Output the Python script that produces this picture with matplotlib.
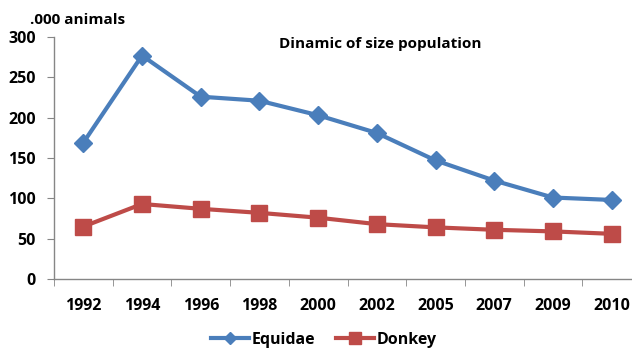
import matplotlib
matplotlib.use("Agg")
import matplotlib.pyplot as plt
from matplotlib.lines import Line2D

years = ["1992", "1994", "1996", "1998", "2000", "2002", "2005", "2007", "2009", "2010"]
equidae = [169, 277, 226, 221, 203, 181, 147, 122, 101, 98]
donkey = [65, 93, 87, 82, 76, 68, 64, 61, 59, 56]
y_ticks = [0, 50, 100, 150, 200, 250, 300]

blue = "#4A7EBB"
red = "#BE4B48"
axis_grey = "#868686"

plt.rcParams["font.family"] = ["Open Sans", "DejaVu Sans"]

fig = plt.figure(figsize=(6.32, 3.48), dpi=100)
W, H = 632, 348
left, right, top, bottom = 54, 641, 37, 279
ax = fig.add_axes([left / W, 1 - bottom / H, (right - left) / W, (bottom - top) / H])

x = list(range(len(years)))
ax.plot(x, equidae, color=blue, lw=3, marker="D", markersize=9,
        markerfacecolor=blue, markeredgecolor=blue, zorder=3, clip_on=False)
ax.plot(x, donkey, color=red, lw=3, marker="s", markersize=11,
        markerfacecolor=red, markeredgecolor=red, zorder=3, clip_on=False)

ax.set_xlim(-0.5, len(years) - 0.5)
ax.set_ylim(0, 300)
ax.set_yticks(y_ticks)
ax.set_yticklabels([str(v) for v in y_ticks], fontsize=11.5, fontweight="bold")

# category labels centred, tick marks between categories
ax.set_xticks(x)
ax.set_xticklabels(years, fontsize=11.5, fontweight="bold")
ax.tick_params(axis="x", which="major", length=0, pad=14)
ax.set_xticks([i - 0.5 for i in range(len(years) + 1)], minor=True)
ax.tick_params(axis="x", which="minor", length=5, color=axis_grey, direction="out")
ax.tick_params(axis="y", length=5, color=axis_grey, direction="out", pad=8)

for side in ("top", "right"):
    ax.spines[side].set_visible(False)
for side in ("left", "bottom"):
    ax.spines[side].set_color(axis_grey)
    ax.spines[side].set_linewidth(1)

fig.text(30 / W, 1 - 20 / H, ".000 animals", fontsize=11, fontweight="bold",
         ha="left", va="center")
fig.text(380 / W, 1 - 44 / H, "Dinamic of size population", fontsize=11,
         fontweight="bold", ha="center", va="center")

handles = [
    Line2D([], [], color=blue, lw=3, marker="D", markersize=6),
    Line2D([], [], color=red, lw=3, marker="s", markersize=8),
]
fig.legend(handles, ["Equidae", "Donkey"], loc="center",
           bbox_to_anchor=(324 / W, 1 - 340 / H), ncol=2, frameon=False,
           prop={"size": 11.5, "weight": "bold"}, handlelength=2.4,
           handletextpad=0.15, columnspacing=1.3, borderpad=0)

fig.savefig("out.png", dpi=100)
